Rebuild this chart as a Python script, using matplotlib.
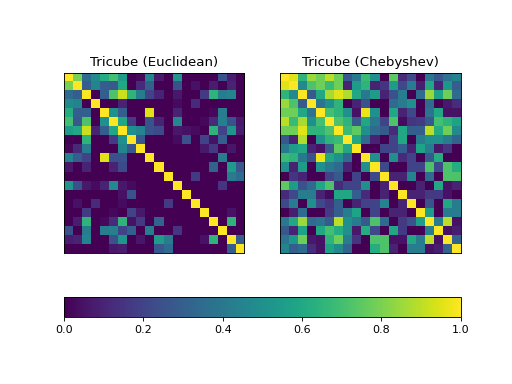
import matplotlib
matplotlib.use('Agg')
import matplotlib.pyplot as plt
import numpy as np

titles = ['Tricube (Euclidean)', 'Tricube (Chebyshev)']
cbar_ticks = [0.0, 0.2, 0.4, 0.6, 0.8, 1.0]

# upper triangle of each similarity matrix
# (diagonal is 1, lower triangle is the mirror)
euclid_upper = [
    [.8, .35, .48, .62, .7, .55, 0, .02, .45, .07, 0, .52, 0, 0, 0, 0, .25, .08, 0],
    [.3, .45, .3, .28, .6, 0, .12, .3, 0, 0, .25, 0, .05, 0, .08, 0, .1, 0],
    [0, .3, .72, .92, .65, .42, .2, .1, 0, .07, 0, 0, .17, .65, .42, .45, 0],
    [0, 0, .1, 0, 0, 0, 0, 0, .03, 0, .12, 0, 0, 0, 0, 0],
    [.5, .3, 0, 0, .95, 0, 0, .1, 0, 0, 0, .02, .42, 0, 0],
    [.6, .17, 0, .25, .1, 0, .47, 0, 0, .02, .12, .43, .25, .07],
    [.5, .45, .25, .22, 0, .07, .05, .03, 0, .65, .2, .52, .08],
    [.27, 0, 0, 0, .03, .25, 0, .2, .05, .3, 0, 0],
    [0, 0, 0, 0, 0, 0, .07, .17, 0, .06, 0],
    [0, 0, 0, 0, 0, 0, 0, .42, 0, 0],
    [0, 0, 0, 0, 0, .32, 0, .55, .27],
    [0, 0, .17, 0, 0, 0, .42, .35],
    [0, 0, 0, 0, .15, 0, 0],
    [0, 0, 0, 0, 0, 0],
    [0, 0, 0, 0, 0],
    [0, 0, .05, 0],
    [0, .65, 0],
    [0, 0],
    [.3],
]

cheby_upper = [
    [.95, .65, .85, .78, .9, .78, .27, .4, .68, .5, 0, .75, .12, .22, 0, .4, .27, .38, .45],
    [.47, .72, .78, .68, .78, .1, .55, .65, .1, .15, .55, .22, .42, .08, .6, .1, .52, .3],
    [.28, .6, .87, .95, .88, .6, .4, .55, .1, .25, .42, 0, .35, .85, .58, .78, .35],
    [.38, .5, .65, 0, .1, .25, 0, 0, .35, .42, .5, 0, .35, 0, .07, .13],
    [.7, .65, .5, .05, .97, .5, 0, .6, .1, .22, 0, .38, .6, .05, .05],
    [.72, .65, .28, .6, .4, .2, .72, .03, .15, .17, .28, .7, .65, .58],
    [.68, .75, .5, .35, .28, .12, .6, .3, .3, .9, .62, .78, .48],
    [.6, .35, .1, 0, .2, .6, 0, .42, .5, .5, .42, .32],
    [0, 0, .2, .2, .3, .1, .58, .42, .07, .15, 0],
    [.5, 0, .5, .12, .2, 0, .28, .62, 0, 0],
    [.22, 0, 0, .2, .2, .72, .22, .72, .62],
    [.1, .1, .45, 0, .35, 0, .72, .72],
    [0, 0, .1, 0, .6, .05, .1],
    [.1, .1, .17, .17, .05, 0],
    [0, .25, 0, .6, .42],
    [.55, 0, .42, .42],
    [.42, .9, .05],
    [.05, .08],
    [.32],
]


def build_matrix(upper):
    n = len(upper) + 1
    m = np.eye(n)
    for i, fila in enumerate(upper):
        m[i, i+1:] = fila
        m[i+1:, i] = fila
    return m


fig = plt.figure(figsize=(6.4, 4.8), dpi=80)

ax1 = fig.add_axes([64/512, 1-253.4/384, 180.4/512, 180.4/384])
ax2 = fig.add_axes([280.4/512, 1-253.4/384, 180.4/512, 180.4/384])

for ax, upper, titulo in zip([ax1, ax2], [euclid_upper, cheby_upper], titles):
    im = ax.imshow(build_matrix(upper), cmap='viridis', vmin=0, vmax=1)
    ax.set_xticks([])
    ax.set_yticks([])
    ax.set_title(titulo)

cax = fig.add_axes([64/512, 1-317/384, 396.8/512, 19.7/384])
fig.colorbar(im, cax=cax, orientation='horizontal', ticks=cbar_ticks)

fig.savefig('out.png', dpi=80)
